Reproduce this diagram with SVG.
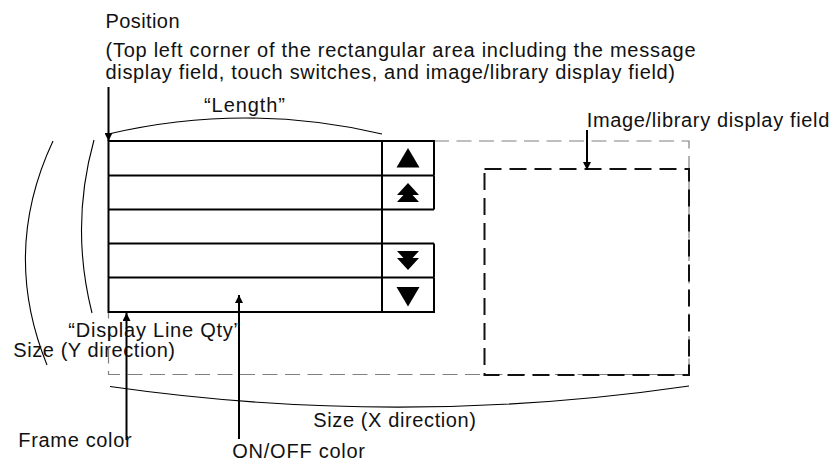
<svg xmlns="http://www.w3.org/2000/svg" width="838" height="463" viewBox="0 0 838 463">
<style>
  text { font-family: "Liberation Sans", Arial, sans-serif; font-size: 20px; fill: #111; }
  .frame { fill: none; stroke: #000; stroke-width: 2; }
  .outer { fill: none; stroke: #808080; stroke-width: 1.2; stroke-dasharray: 15 7.5; }
  .inner { fill: none; stroke: #111; stroke-width: 2; stroke-dasharray: 17 8; }
  .arc { fill: none; stroke: #000; stroke-width: 1.1; }
  .lead { fill: none; stroke: #000; stroke-width: 2; }
  .tri { fill: #000; }
</style>
<defs>
  <marker id="ah" viewBox="0 0 10 10" refX="10" refY="5" markerWidth="9" markerHeight="8" markerUnits="userSpaceOnUse" orient="auto">
    <path d="M0,0 L10,5 L0,10 z" fill="#000"/>
  </marker>
</defs>
<rect width="838" height="463" fill="#fff"/>

<g id="overall-area">
  <path class="outer" d="M434,141 H689 V374.5 H108.5 V312"/>
</g>

<g id="image-field">
  <rect class="inner" x="484.5" y="169" width="204.5" height="206"/>
</g>

<g id="message-field">
  <rect class="frame" x="108.5" y="141" width="273.5" height="171"/>
  <path class="frame" d="M108.5,175.5 H434 M108.5,209.5 H434 M108.5,243.5 H434 M108.5,277.5 H434"/>
</g>

<g id="switch-up">
  <path class="frame" d="M382,141 H434 V175.5"/>
  <polygon class="tri" points="408,148 396.5,167.5 419.5,167.5"/>
</g>
<g id="switch-page-up">
  <path class="frame" d="M434,175.5 V209.5"/>
  <polygon class="tri" points="408,183 397,195 419,195"/>
  <polygon class="tri" points="408,190 397,202 419,202"/>
</g>
<g id="switch-page-down">
  <path class="frame" d="M434,243.5 V277.5"/>
  <polygon class="tri" points="397,251 419,251 408,263"/>
  <polygon class="tri" points="397,258 419,258 408,270"/>
</g>
<g id="switch-down">
  <path class="frame" d="M434,277.5 V312 H382"/>
  <polygon class="tri" points="396.5,287 419.5,287 408,306.5"/>
</g>

<g id="connectors">
  <line class="lead" x1="108.5" y1="87" x2="108.5" y2="141" marker-end="url(#ah)"/>
  <line class="lead" x1="587" y1="130" x2="587" y2="170" marker-end="url(#ah)"/>
  <line class="lead" x1="126.5" y1="440" x2="126.5" y2="313" marker-end="url(#ah)"/>
  <line class="lead" x1="239" y1="439" x2="239" y2="295" marker-end="url(#ah)"/>
  <path class="arc" d="M108.5,134 Q245,102 382,134"/>
  <path class="arc" d="M110,386.5 Q400,428 689,386"/>
  <path class="arc" d="M94,140 Q70,226 92,313"/>
  <path class="arc" d="M53,141 Q1,252 47,365"/>
</g>

<g id="labels">
  <text x="105.5" y="27.7" textLength="74" lengthAdjust="spacing">Position</text>
  <text x="105.5" y="57" textLength="590" lengthAdjust="spacing">(Top left corner of the rectangular area including the message</text>
  <text x="105.5" y="79" textLength="569.5" lengthAdjust="spacing">display field, touch switches, and image/library display field)</text>
  <text x="204" y="111.7" textLength="81" lengthAdjust="spacing">“Length”</text>
  <text x="586.7" y="126.7" textLength="242.6" lengthAdjust="spacing">Image/library display field</text>
  <text x="68.3" y="336.7" textLength="172" lengthAdjust="spacing">“Display Line Qty”</text>
  <text x="13.3" y="356.7" textLength="161.7" lengthAdjust="spacing">Size (Y direction)</text>
  <text x="313.3" y="426.7" textLength="162.7" lengthAdjust="spacing">Size (X direction)</text>
  <text x="18.3" y="446.7" textLength="113.4" lengthAdjust="spacing">Frame color</text>
  <text x="232.3" y="458.3" textLength="132.7" lengthAdjust="spacing">ON/OFF color</text>
</g>
</svg>
